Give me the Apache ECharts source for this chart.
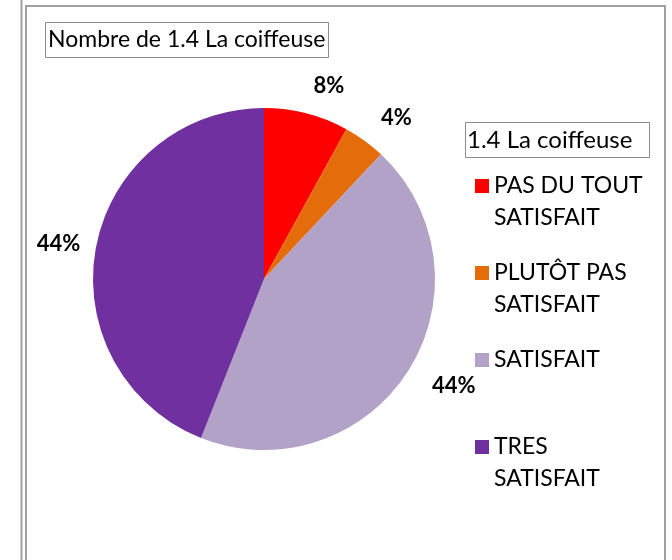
<!DOCTYPE html>
<html><head><meta charset="utf-8">
<script src="https://cdn.jsdelivr.net/npm/echarts@6/dist/echarts.min.js"></script>
<style>html,body{margin:0;padding:0;background:#fff}#c{width:672px;height:560px}</style>
</head><body><div id="c"></div>
<script>
const categories = ['PAS DU TOUT SATISFAIT', 'PLUTÔT PAS SATISFAIT', 'SATISFAIT', 'TRES SATISFAIT'];
const legendLines = [['PAS DU TOUT', 'SATISFAIT'], ['PLUTÔT PAS', 'SATISFAIT'], ['SATISFAIT'], ['TRES', 'SATISFAIT']];
const counts = [2, 1, 11, 11];
const colors = ['#FF0000', '#E46C0A', '#B3A2C7', '#7030A0'];
const chartTitle = 'Nombre de 1.4 La coiffeuse';
const legendTitle = '1.4 La coiffeuse';

const FONT = 'Lato, Carlito, Calibri, sans-serif';
const chart = echarts.init(document.getElementById('c'), null, {renderer: 'canvas'});

const legends = categories.map((name, i) => {
  const lines = legendLines[i];
  const center = 186 + i * 87;
  const multi = lines.length > 1;
  return {
    orient: 'vertical', left: 475, top: center - (multi ? 48 : 16),
    padding: 0, itemGap: 0, itemWidth: 14, itemHeight: 14, icon: 'rect',
    selectedMode: false, data: [name],
    formatter: () => multi ? '\n' + lines.join('\n') : lines[0],
    textStyle: {fontFamily: FONT, fontSize: 23, lineHeight: 32, color: '#000'}
  };
});

chart.setOption({
  animation: false,
  color: colors,
  title: [
    {text: chartTitle, left: 45, top: 22, padding: [4, 3, 4, 3], borderColor: '#8c8c8c', borderWidth: 1,
     textStyle: {fontFamily: FONT, fontSize: 23, lineHeight: 28, fontWeight: 'normal', color: '#000'}},
    {text: legendTitle, left: 465, top: 122, padding: [4, 17, 4, 2], borderColor: '#8c8c8c', borderWidth: 1,
     textStyle: {fontFamily: FONT, fontSize: 24, lineHeight: 28, fontWeight: 'normal', color: '#000'}}
  ],
  legend: legends,
  graphic: [
    {type: 'line', silent: true, shape: {x1: 21.5, y1: 0, x2: 21.5, y2: 560}, style: {stroke: '#a0a0a0', lineWidth: 2}},
    {type: 'polyline', silent: true, shape: {points: [[26, 570], [26, 6], [665, 6], [665, 570]]}, style: {stroke: '#a0a0a0', lineWidth: 2, fill: null}}
  ],
  series: [{
    type: 'pie', center: [264, 279], radius: 171, startAngle: 90, clockwise: true,
    avoidLabelOverlap: false,
    data: categories.map((n, i) => {
      const d = {name: n, value: counts[i]};
      if (i === 3) d.labelLine = {length: 16};
      return d;
    }),
    label: {show: true, position: 'outside', distanceToLabelLine: 0,
      formatter: p => Math.round(p.percent) + '%',
      fontFamily: FONT, fontWeight: 'bold', fontSize: 22, color: '#000'},
    labelLine: {show: false, length: 28, length2: 0},
    itemStyle: {borderWidth: 0},
    emphasis: {disabled: true}
  }]
});
</script></body></html>
